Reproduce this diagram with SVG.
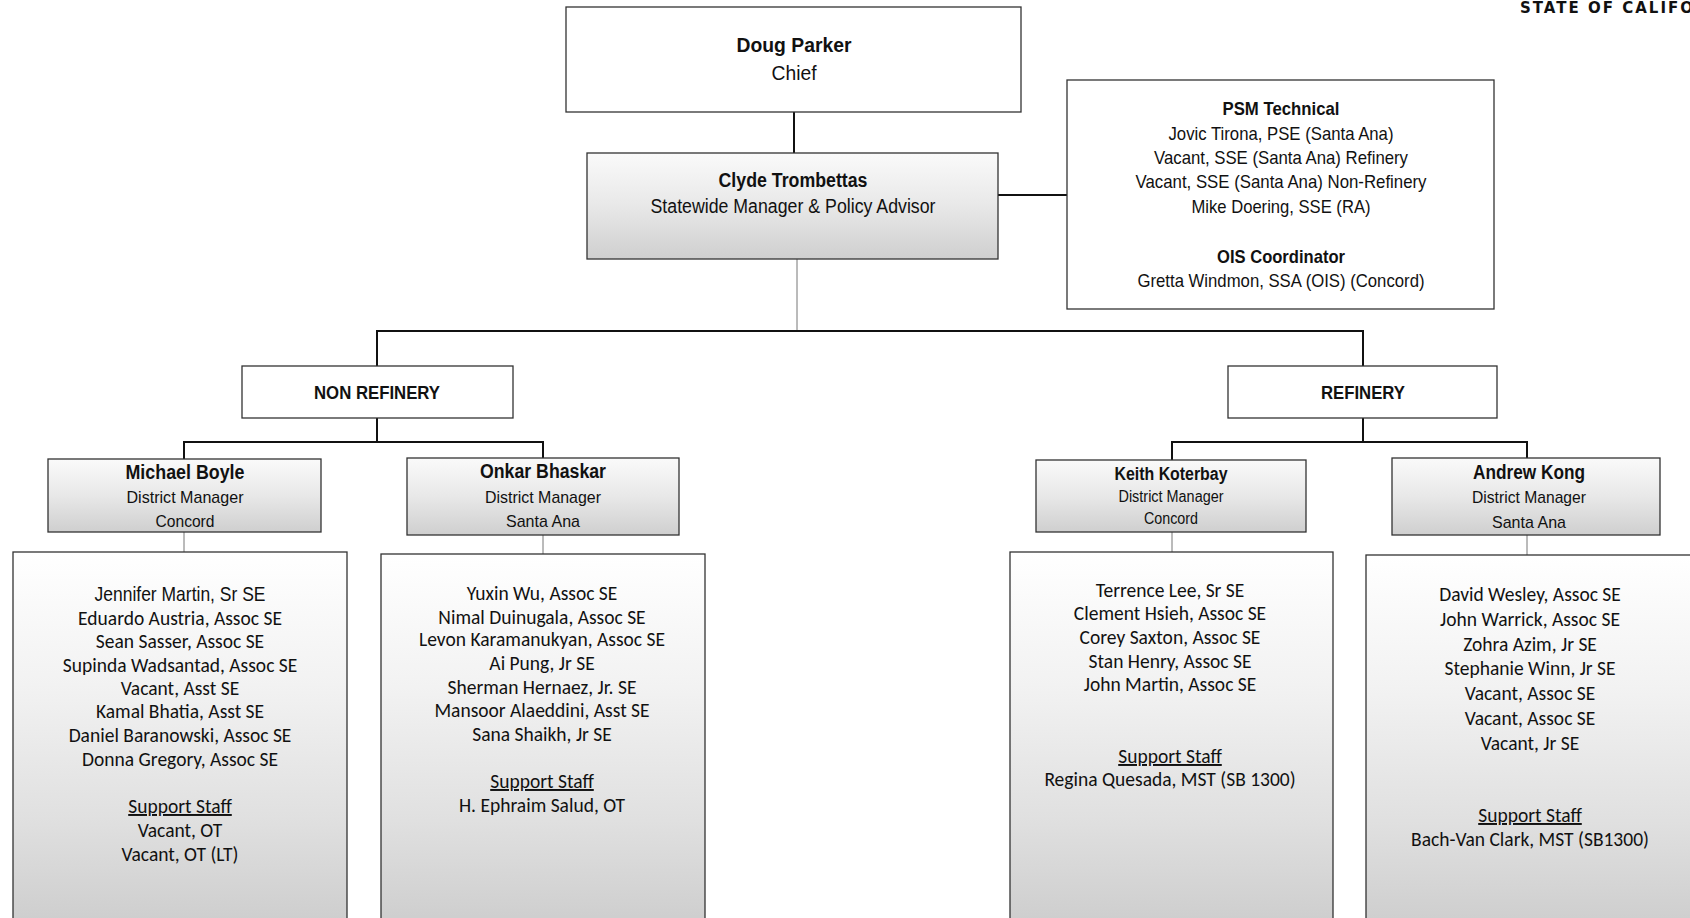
<svg xmlns="http://www.w3.org/2000/svg" width="1690" height="918" viewBox="0 0 1690 918">
<style>
.box{stroke:#333;stroke-width:1.3;}
.white{fill:#fff;}
.gray{fill:url(#g1);}
.tall{fill:url(#g2);}
.hd{font-family:"Liberation Sans Narrow","Liberation Sans",Arial,sans-serif;text-anchor:middle;fill:#111;}
.b{font-weight:bold;}
.st{font-family:Carlito,Lato,"Open Sans",sans-serif;font-size:19.5px;text-anchor:middle;fill:#111;}
.conn{stroke:#111;stroke-width:2;fill:none;}
.thin{stroke:#777;stroke-width:1;fill:none;}
</style>
<defs>
<linearGradient id="g1" x1="0" y1="0" x2="0" y2="1">
<stop offset="0" stop-color="#fafafa"/>
<stop offset="0.5" stop-color="#e8e8e8"/>
<stop offset="1" stop-color="#cfcfcf"/>
</linearGradient>
<linearGradient id="g2" x1="0" y1="0" x2="0" y2="1">
<stop offset="0" stop-color="#ffffff"/>
<stop offset="0.35" stop-color="#f2f2f2"/>
<stop offset="0.7" stop-color="#e0e0e0"/>
<stop offset="1" stop-color="#cccccc"/>
</linearGradient>
</defs>
<rect width="1690" height="918" fill="#fff"/>
<text x="1520" y="13" font-family="'DejaVu Sans',sans-serif" font-weight="bold" font-size="15" letter-spacing="2" fill="#111">STATE OF CALIFORNIA</text>

<g id="connectors">
<line class="conn" x1="794" y1="112" x2="794" y2="153"/>
<line class="conn" x1="998" y1="195" x2="1067" y2="195"/>
<line class="thin" x1="797" y1="259" x2="797" y2="331"/>
<polyline class="conn" points="377,366 377,331 1363,331 1363,366"/>
<polyline class="conn" points="377,418 377,442"/>
<polyline class="conn" points="184,459 184,442 543,442 543,458"/>
<polyline class="conn" points="1363,418 1363,442"/>
<polyline class="conn" points="1172,460 1172,442 1527,442 1527,458"/>
<line class="thin" x1="184" y1="532" x2="184" y2="552"/>
<line class="thin" x1="543" y1="535" x2="543" y2="554"/>
<line class="thin" x1="1172" y1="532" x2="1172" y2="552"/>
<line class="thin" x1="1527" y1="535" x2="1527" y2="555"/>
</g>

<g id="doug">
<rect class="box white" x="566" y="7" width="455" height="105"/>
<text class="hd b" x="794" y="52" font-size="21" textLength="115" lengthAdjust="spacingAndGlyphs">Doug Parker</text>
<text class="hd" x="794" y="80" font-size="21" textLength="45" lengthAdjust="spacingAndGlyphs">Chief</text>
</g>

<g id="clyde">
<rect class="box gray" x="587" y="153" width="411" height="106"/>
<text class="hd b" x="793" y="187" font-size="20" textLength="149" lengthAdjust="spacingAndGlyphs">Clyde Trombettas</text>
<text class="hd" x="793" y="213" font-size="20" textLength="285" lengthAdjust="spacingAndGlyphs">Statewide Manager &amp; Policy Advisor</text>
</g>

<g id="psm">
<rect class="box white" x="1067" y="80" width="427" height="229"/>
<text class="hd b" x="1281" y="115" font-size="18.5" textLength="117" lengthAdjust="spacingAndGlyphs">PSM Technical</text>
<text class="hd" x="1281" y="140" font-size="18.5" textLength="225" lengthAdjust="spacingAndGlyphs">Jovic Tirona, PSE (Santa Ana)</text>
<text class="hd" x="1281" y="164" font-size="18.5" textLength="254" lengthAdjust="spacingAndGlyphs">Vacant, SSE (Santa Ana) Refinery</text>
<text class="hd" x="1281" y="188" font-size="18.5" textLength="291" lengthAdjust="spacingAndGlyphs">Vacant, SSE (Santa Ana) Non-Refinery</text>
<text class="hd" x="1281" y="213" font-size="18.5" textLength="179" lengthAdjust="spacingAndGlyphs">Mike Doering, SSE (RA)</text>
<text class="hd b" x="1281" y="263" font-size="18.5" textLength="128" lengthAdjust="spacingAndGlyphs">OIS Coordinator</text>
<text class="hd" x="1281" y="287" font-size="18.5" textLength="287" lengthAdjust="spacingAndGlyphs">Gretta Windmon, SSA (OIS) (Concord)</text>
</g>

<g id="nonrefinery">
<rect class="box white" x="242" y="366" width="271" height="52"/>
<text class="hd b" x="377" y="399" font-size="18.5" textLength="126" lengthAdjust="spacingAndGlyphs">NON REFINERY</text>
</g>

<g id="refinery">
<rect class="box white" x="1228" y="366" width="269" height="52"/>
<text class="hd b" x="1363" y="399" font-size="18.5" textLength="84" lengthAdjust="spacingAndGlyphs">REFINERY</text>
</g>

<g id="boyle">
<rect class="box gray" x="48" y="459" width="273" height="73"/>
<text class="hd b" x="185" y="479" font-size="20" textLength="119" lengthAdjust="spacingAndGlyphs">Michael Boyle</text>
<text class="hd" x="185" y="503" font-size="17" textLength="117" lengthAdjust="spacingAndGlyphs">District Manager</text>
<text class="hd" x="185" y="527" font-size="17" textLength="59" lengthAdjust="spacingAndGlyphs">Concord</text>
</g>

<g id="bhaskar">
<rect class="box gray" x="407" y="458" width="272" height="77"/>
<text class="hd b" x="543" y="478" font-size="20" textLength="126" lengthAdjust="spacingAndGlyphs">Onkar Bhaskar</text>
<text class="hd" x="543" y="503" font-size="17" textLength="116" lengthAdjust="spacingAndGlyphs">District Manager</text>
<text class="hd" x="543" y="527" font-size="17" textLength="74" lengthAdjust="spacingAndGlyphs">Santa Ana</text>
</g>

<g id="koterbay">
<rect class="box gray" x="1036" y="460" width="270" height="72"/>
<text class="hd b" x="1171" y="480" font-size="17.5" textLength="113" lengthAdjust="spacingAndGlyphs">Keith Koterbay</text>
<text class="hd" x="1171" y="502" font-size="16" textLength="105" lengthAdjust="spacingAndGlyphs">District Manager</text>
<text class="hd" x="1171" y="524" font-size="16" textLength="54" lengthAdjust="spacingAndGlyphs">Concord</text>
</g>

<g id="kong">
<rect class="box gray" x="1392" y="458" width="268" height="77"/>
<text class="hd b" x="1529" y="479" font-size="20" textLength="112" lengthAdjust="spacingAndGlyphs">Andrew Kong</text>
<text class="hd" x="1529" y="503" font-size="17" textLength="114" lengthAdjust="spacingAndGlyphs">District Manager</text>
<text class="hd" x="1529" y="528" font-size="17" textLength="74" lengthAdjust="spacingAndGlyphs">Santa Ana</text>
</g>

<g id="staff-boyle">
<rect class="box tall" x="13" y="552" width="334" height="380"/>
<text class="hd" x="180" y="601" font-size="21" textLength="171" lengthAdjust="spacingAndGlyphs">Jennifer Martin, Sr SE</text>
<text class="st" x="180" y="625">Eduardo Austria, Assoc SE</text>
<text class="st" x="180" y="648">Sean Sasser, Assoc SE</text>
<text class="st" x="180" y="672">Supinda Wadsantad, Assoc SE</text>
<text class="st" x="180" y="695">Vacant, Asst SE</text>
<text class="st" x="180" y="718">Kamal Bhatia, Asst SE</text>
<text class="st" x="180" y="742">Daniel Baranowski, Assoc SE</text>
<text class="st" x="180" y="766">Donna Gregory, Assoc SE</text>
<text class="st" x="180" y="813" text-decoration="underline">Support Staff</text>
<text class="st" x="180" y="837">Vacant, OT</text>
<text class="st" x="180" y="861">Vacant, OT (LT)</text>
</g>

<g id="staff-bhaskar">
<rect class="box tall" x="381" y="554" width="324" height="380"/>
<text class="st" x="542" y="600">Yuxin Wu, Assoc SE</text>
<text class="st" x="542" y="624">Nimal Duinugala, Assoc SE</text>
<text class="st" x="542" y="646">Levon Karamanukyan, Assoc SE</text>
<text class="st" x="542" y="670">Ai Pung, Jr SE</text>
<text class="st" x="542" y="694">Sherman Hernaez, Jr. SE</text>
<text class="st" x="542" y="717">Mansoor Alaeddini, Asst SE</text>
<text class="st" x="542" y="741">Sana Shaikh, Jr SE</text>
<text class="st" x="542" y="788" text-decoration="underline">Support Staff</text>
<text class="st" x="542" y="812">H. Ephraim Salud, OT</text>
</g>

<g id="staff-koterbay">
<rect class="box tall" x="1010" y="552" width="323" height="380"/>
<text class="st" x="1170" y="597">Terrence Lee, Sr SE</text>
<text class="st" x="1170" y="620">Clement Hsieh, Assoc SE</text>
<text class="st" x="1170" y="644">Corey Saxton, Assoc SE</text>
<text class="st" x="1170" y="668">Stan Henry, Assoc SE</text>
<text class="st" x="1170" y="691">John Martin, Assoc SE</text>
<text class="st" x="1170" y="763" text-decoration="underline">Support Staff</text>
<text class="st" x="1170" y="786">Regina Quesada, MST (SB 1300)</text>
</g>

<g id="staff-kong">
<rect class="box tall" x="1366" y="555" width="340" height="380"/>
<text class="st" x="1530" y="601">David Wesley, Assoc SE</text>
<text class="st" x="1530" y="626">John Warrick, Assoc SE</text>
<text class="st" x="1530" y="651">Zohra Azim, Jr SE</text>
<text class="st" x="1530" y="675">Stephanie Winn, Jr SE</text>
<text class="st" x="1530" y="700">Vacant, Assoc SE</text>
<text class="st" x="1530" y="725">Vacant, Assoc SE</text>
<text class="st" x="1530" y="750">Vacant, Jr SE</text>
<text class="st" x="1530" y="822" text-decoration="underline">Support Staff</text>
<text class="st" x="1530" y="846">Bach-Van Clark, MST (SB1300)</text>
</g>
</svg>
